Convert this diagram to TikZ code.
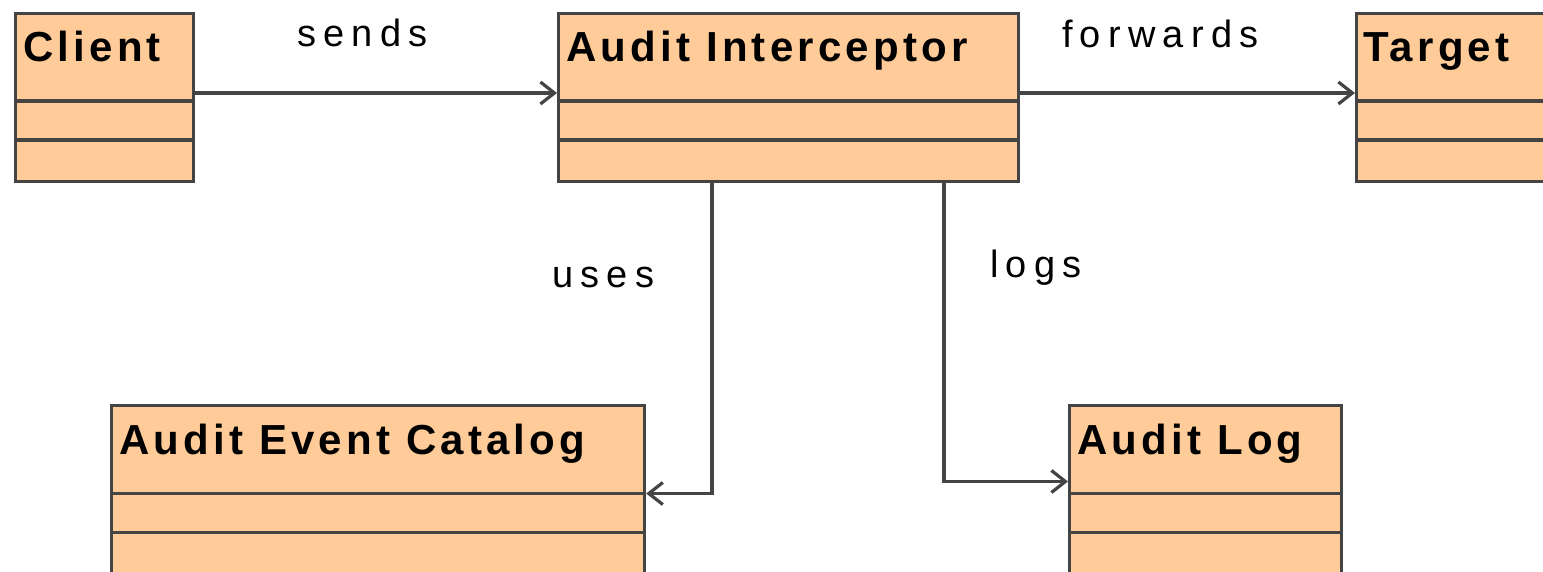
\documentclass[tikz,border=0pt]{standalone}
\usepackage{fontspec}
\usetikzlibrary{arrows.meta}
\newfontfamily\titlefont[LetterSpace=10]{Liberation Sans}
\newfontfamily\labelfont[LetterSpace=19]{Liberation Sans}
\definecolor{boxfill}{HTML}{FFCC99}
\definecolor{edge}{HTML}{444444}
\tikzset{
  classbox/.style={draw=edge, fill=boxfill, line width=3.2pt, rectangle,
    anchor=north west, inner sep=0pt, minimum height=168.5pt},
  divider/.style={draw=edge, line width=3.2pt},
  classname/.style={anchor=base west, inner sep=0pt,
    font=\titlefont\bfseries\fontsize{42}{42}\selectfont},
  edgelabel/.style={anchor=base west, inner sep=0pt,
    font=\labelfont\fontsize{38}{38}\selectfont},
  conn/.style={draw=edge, line width=3.2pt,
    -{Straight Barb[length=14pt,width=22pt]}},
}
\begin{document}
\begin{tikzpicture}[x=1pt,y=-1pt]
\useasboundingbox (0,0) rectangle (1543,571);
\clip (0,0) rectangle (1543,571);

% class boxes with their two compartments
\foreach \name/\x/\y/\w in {client/13.5/11.5/178, interceptor/557/11.5/460,
    target/1355/11.5/260, catalog/110/404/533, log/1068/404/272} {
  \node[classbox, minimum width=\w pt] (\name) at (\x,\y) {};
  \draw[divider] ([yshift=-89.5pt]\name.north west) -- ([yshift=-89.5pt]\name.north east);
  \draw[divider] ([yshift=-128.5pt]\name.north west) -- ([yshift=-128.5pt]\name.north east);
}

% class names
\node[classname] (tclient) at (23,61) {Client};
\node[classname] (tinterceptor) at (566,61) {Audit Interceptor};
\node[classname] (ttarget) at (1363,61) {Target};
\node[classname] (tcatalog) at (119,454) {Audit Event Catalog};
\node[classname] (tlog) at (1077,454) {Audit Log};

% associations
\draw[conn] ([yshift=-81.5pt]client.north east) -- ([yshift=-81.5pt]interceptor.north west);
\draw[conn] ([yshift=-81.5pt]interceptor.north east) -- ([yshift=-81.5pt]target.north west);
\draw[conn] ([xshift=155pt]interceptor.south west) |- ([yshift=-89.5pt]catalog.north east);
\draw[conn] ([xshift=387pt]interceptor.south west) |- ([yshift=-77.5pt]log.north west);

% association labels
\node[edgelabel] (lsends) at (297,46) {sends};
\node[edgelabel] (lforwards) at (1062,47) {forwards};
\node[edgelabel] (luses) at (552,287) {uses};
\node[edgelabel] (llogs) at (990,277) {logs};
\end{tikzpicture}
\end{document}
